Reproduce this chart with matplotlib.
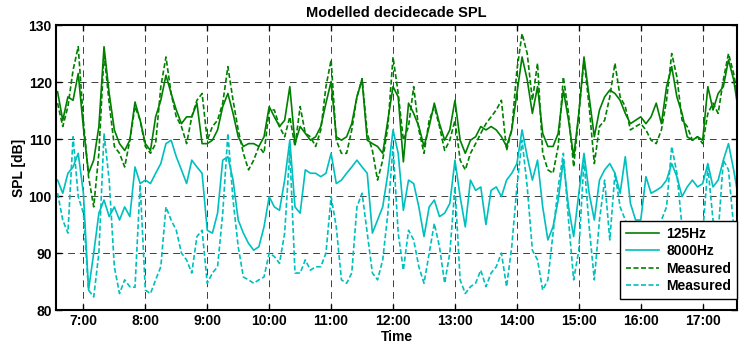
import matplotlib
matplotlib.use('Agg')
import matplotlib.pyplot as plt
import numpy as np

plt.rcParams['font.family'] = ['Liberation Sans', 'DejaVu Sans']
plt.rcParams['font.weight'] = 'bold'

# time axis: 5-minute samples from 6:35 to 17:35 (hours)
t_start, t_step = 6 + 35 / 60, 5 / 60

model_125 = [
    118.3, 113.3, 117.4, 116.8, 121.5, 112.0, 104.0, 106.3, 112.2, 126.2, 118.0, 111.6, 109.2, 108.0, 109.8, 116.5, 113.3,
    109.2, 108.0, 113.9, 116.8, 121.2, 118.0, 115.1, 112.7, 113.9, 113.9, 116.3, 109.2, 109.2, 109.8, 111.6, 115.7,
    118.0, 114.5, 110.4, 108.7, 109.2, 109.2, 108.7, 110.4, 115.7, 113.9, 112.2, 113.3, 119.2, 109.2, 112.2, 111.0, 109.8,
    110.4, 112.2, 116.3, 120.1, 110.4, 109.8, 110.4, 112.7, 117.4, 120.4, 109.8, 109.2, 108.7, 107.5, 113.3, 119.2,
    117.4, 106.0, 116.3, 114.5, 112.2, 108.7, 112.2, 116.3, 112.7, 109.8, 111.6, 116.8, 109.8, 107.5, 109.8, 110.4, 112.2,
    111.6, 112.2, 111.6, 110.4, 108.7, 111.6, 118.0, 124.4, 120.4, 114.5, 119.2, 111.0, 108.7, 108.7, 111.0, 118.6,
    113.3, 106.9, 114.5, 124.4, 117.4, 110.4, 115.1, 117.4, 118.6, 118.0, 116.8, 114.5, 112.7, 113.3, 113.9, 112.7, 113.9,
    116.3, 112.7, 119.2, 122.7, 117.4, 114.5, 110.4, 109.8, 110.4, 109.8, 119.2, 115.1, 118.0, 119.2, 123.9, 120.4, 114.5,
]
model_8000 = [
    102.8, 100.5, 104.0, 105.1, 107.5, 100.5, 83.5, 90.0, 97.0, 99.3, 96.4, 98.1, 95.8, 98.1, 96.4, 105.1, 102.2,
    102.8, 102.2, 104.0, 105.7, 109.2, 109.8, 106.9, 104.6, 102.2, 106.3, 105.1, 104.0, 94.0, 93.5, 97.0, 106.3,
    106.9, 102.8, 95.8, 93.5, 91.7, 90.5, 91.1, 94.6, 99.9, 98.1, 97.5, 102.8, 109.8, 98.1, 97.0, 104.6, 104.0,
    104.0, 103.4, 104.0, 107.5, 102.2, 102.8, 104.0, 105.1, 106.3, 105.1, 104.0, 93.5, 95.8, 98.1, 104.0, 111.6,
    107.5, 97.5, 102.8, 102.2, 98.1, 92.9, 98.1, 99.3, 96.4, 97.0, 98.7, 106.3, 99.9, 94.6, 102.8, 101.0, 101.6,
    95.0, 101.0, 101.6, 99.9, 102.8, 104.0, 105.7, 111.6, 106.9, 102.8, 106.3, 98.1, 92.3, 94.6, 99.3, 106.3,
    98.1, 92.9, 100.5, 107.5, 100.5, 95.8, 102.8, 104.6, 105.7, 104.0, 100.5, 106.9, 98.7, 95.8, 95.8, 103.4, 100.5,
    101.0, 101.6, 102.8, 105.7, 103.4, 99.9, 101.6, 102.8, 101.6, 102.2, 105.7, 101.6, 102.8, 106.3, 109.2, 104.6, 99.3,
]
meas_125 = [
    116.3, 112.2, 115.7, 122.1, 126.2, 113.3, 103.4, 98.1, 107.5, 125.0, 116.3, 108.7, 107.5, 105.1, 109.8, 115.7, 113.3,
    108.7, 107.5, 109.2, 119.2, 124.4, 118.0, 113.9, 112.2, 109.2, 113.9, 116.8, 118.0, 109.8, 112.2, 113.3, 116.3,
    122.7, 116.8, 111.6, 107.5, 104.6, 106.3, 108.7, 107.5, 115.1, 115.1, 112.2, 110.4, 113.9, 108.7, 115.7, 111.0, 110.4,
    108.7, 111.6, 119.2, 123.9, 109.8, 107.5, 107.5, 111.6, 117.4, 120.6, 111.0, 108.0, 102.8, 106.3, 112.2, 124.4,
    118.0, 109.8, 112.2, 119.2, 111.6, 107.5, 113.3, 115.7, 112.2, 108.0, 109.8, 113.3, 106.3, 104.6, 107.5, 109.2, 111.0,
    112.7, 113.9, 115.1, 116.8, 108.0, 111.6, 122.1, 128.5, 125.0, 116.8, 123.3, 107.5, 104.6, 104.0, 108.7, 120.9,
    114.5, 105.1, 114.5, 123.9, 115.7, 105.7, 112.2, 113.3, 117.4, 123.3, 117.4, 115.7, 111.6, 112.2, 112.7, 111.6, 109.8,
    109.2, 111.6, 116.8, 125.0, 120.9, 113.3, 112.2, 109.8, 110.4, 109.2, 114.5, 116.3, 114.5, 120.4, 125.0, 121.5, 116.3,
]
meas_8000 = [
    100.5, 95.8, 93.5, 110.4, 99.9, 97.0, 83.5, 82.3, 90.0, 111.0, 102.8, 87.6, 82.9, 85.3, 84.1, 84.0, 102.0,
    83.5, 82.9, 85.3, 87.6, 98.1, 95.8, 94.0, 90.0, 88.8, 86.5, 92.9, 94.0, 84.7, 86.5, 87.6, 97.0,
    111.0, 99.3, 91.1, 85.8, 85.3, 84.7, 85.3, 85.8, 90.0, 89.4, 88.2, 93.5, 108.0, 86.5, 86.5, 88.8, 87.0,
    87.6, 87.6, 90.0, 99.9, 94.6, 85.3, 84.7, 86.5, 98.1, 100.5, 93.5, 86.5, 85.3, 88.8, 97.0, 108.7,
    93.5, 87.0, 94.0, 92.3, 87.6, 84.7, 90.0, 95.2, 91.1, 84.7, 90.0, 101.6, 85.3, 82.9, 84.1, 84.7, 87.0,
    84.1, 86.5, 87.6, 90.0, 84.1, 91.1, 101.6, 109.8, 101.6, 90.5, 88.8, 83.5, 85.3, 93.5, 101.6, 107.5,
    95.8, 85.3, 90.5, 106.3, 94.6, 85.3, 95.8, 102.8, 92.3, 104.0, 98.1, 95.8, 92.9, 90.0, 88.8, 90.0, 92.3,
    88.8, 95.8, 98.1, 108.7, 104.0, 94.6, 90.0, 88.8, 92.9, 93.5, 105.1, 95.8, 93.5, 106.3, 104.6, 94.6, 90.0,
]
hour_ticks = list(range(7, 18))
hour_labels = ['%d:00' % h for h in hour_ticks]
spl_ticks = [80, 90, 100, 110, 120, 130]

t = t_start + t_step * np.arange(len(model_125))

green = '#008000'
cyan = '#00BFBF'

fig = plt.figure(figsize=(7.39, 3.48), dpi=100)
ax = fig.add_axes([0.0758, 0.109, 0.922, 0.819])

ax.plot(t, model_125, color=green, lw=1.2, label='125Hz')
ax.plot(t, model_8000, color=cyan, lw=1.2, label='8000Hz')
ax.plot(t, meas_125, color=green, lw=1.2, ls=(0, (3, 1.5)), label='Measured')
ax.plot(t, meas_8000, color=cyan, lw=1.2, ls=(0, (3, 1.5)), label='Measured')

ax.set_xlim(6.558, 17.56)
ax.set_ylim(80, 130)
ax.set_xticks(hour_ticks)
ax.set_xticklabels(hour_labels)
ax.set_yticks(spl_ticks)
ax.tick_params(direction='in', length=4, width=1, labelsize=10, pad=3,
               top=True, right=True)
ax.grid(True, color='black', ls=(0, (7, 5)), lw=0.7, alpha=0.75)
for s in ax.spines.values():
    s.set_linewidth(1.5)

ax.set_title('Modelled decidecade SPL', fontsize=10.5, fontweight='bold', pad=6)
ax.set_xlabel('Time', fontsize=10, fontweight='bold', labelpad=1)
ax.set_ylabel('SPL [dB]', fontsize=10, fontweight='bold', labelpad=2)

leg = ax.legend(loc='lower right', bbox_to_anchor=(0.999, 0.04), borderaxespad=0,
                fontsize=10, handlelength=2.4, fancybox=False,
                framealpha=1, edgecolor='black', labelspacing=0.25,
                borderpad=0.4, handletextpad=0.5)
leg.get_frame().set_linewidth(1.0)

fig.savefig('out.png', dpi=100)
